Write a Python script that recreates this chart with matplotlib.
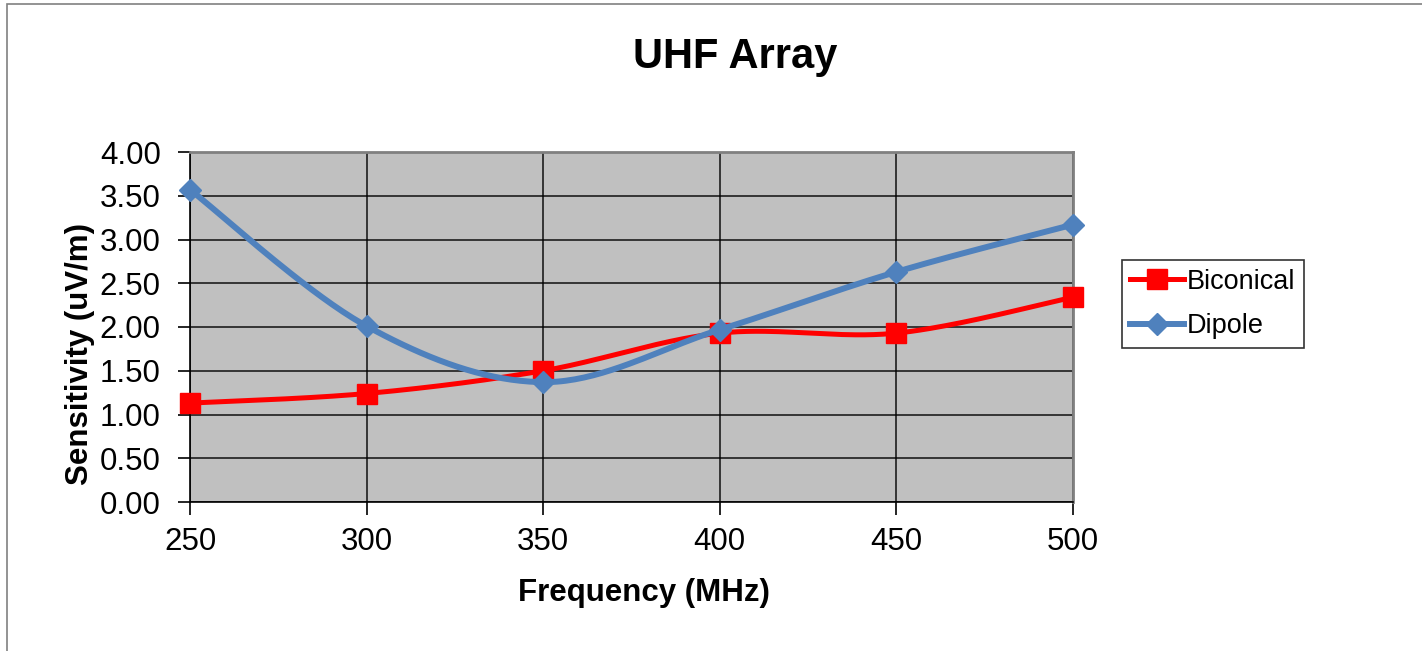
import numpy as np
import matplotlib
matplotlib.use("Agg")
import matplotlib.pyplot as plt
from matplotlib.patches import Rectangle

# data
freq = [250, 300, 350, 400, 450, 500]
biconical = [1.13, 1.24, 1.50, 1.93, 1.93, 2.34]
dipole = [3.57, 2.01, 1.37, 1.97, 2.63, 3.17]
y_ticks = [0.0, 0.5, 1.0, 1.5, 2.0, 2.5, 3.0, 3.5, 4.0]


def smooth(x, y, n=40):
    # Excel style smoothed line: cubic bezier through points (catmull-rom controls)
    x = np.asarray(x, float)
    y = np.asarray(y, float)
    px = np.concatenate([[x[0]], x, [x[-1]]])
    py = np.concatenate([[y[0]], y, [y[-1]]])
    xs, ys = [], []
    t = np.linspace(0, 1, n)
    for i in range(1, len(px) - 2):
        p0 = np.array([px[i], py[i]])
        p3 = np.array([px[i + 1], py[i + 1]])
        p1 = p0 + (np.array([px[i + 1], py[i + 1]]) - np.array([px[i - 1], py[i - 1]])) / 6
        p2 = p3 - (np.array([px[i + 2], py[i + 2]]) - np.array([px[i], py[i]])) / 6
        b = ((1 - t) ** 3)[:, None] * p0 + (3 * (1 - t) ** 2 * t)[:, None] * p1 \
            + (3 * (1 - t) * t ** 2)[:, None] * p2 + (t ** 3)[:, None] * p3
        xs.extend(b[:, 0])
        ys.extend(b[:, 1])
    return xs, ys


plt.rcParams['font.family'] = ['Liberation Sans', 'DejaVu Sans']

W, H = 1422, 651
fig = plt.figure(figsize=(W / 100, H / 100), dpi=100)

# outer chart border
fig.patches.append(Rectangle((7 / W, -0.1), 1.2, 1 - 4 / H + 0.1, transform=fig.transFigure,
                             fill=False, edgecolor='#808080', linewidth=1.2))

ax = fig.add_axes([190 / W, 1 - 502 / H, (1073 - 190) / W, (502 - 152) / H])
ax.set_facecolor('#C0C0C0')

red = '#FF0000'
blue = '#4F81BD'

bx, by = smooth(freq, biconical)
dx, dy = smooth(freq, dipole)
ax.plot(bx, by, color=red, linewidth=3.6, zorder=3, solid_capstyle='round', clip_on=False)
ax.plot(freq, biconical, linestyle='none', marker='s', markersize=14, color=red, zorder=4, clip_on=False)
ax.plot(dx, dy, color=blue, linewidth=4.3, zorder=5, solid_capstyle='round', clip_on=False)
ax.plot(freq, dipole, linestyle='none', marker='D', markersize=11, color=blue, zorder=6, clip_on=False)

# legend proxies
h1, = ax.plot([], [], color=red, linewidth=3.6, marker='s', markersize=14, label='Biconical')
h2, = ax.plot([], [], color=blue, linewidth=4.3, marker='D', markersize=11, label='Dipole')

ax.set_xlim(250, 500)
ax.set_ylim(0, 4)
ax.set_xticks(freq)
ax.set_yticks(y_ticks)
ax.set_yticklabels(["{:.2f}".format(v) for v in y_ticks])
ax.grid(True, color='#000000', linewidth=1.2, alpha=0.85, zorder=1)
ax.set_axisbelow(True)
ax.tick_params(axis='both', direction='out', length=9, width=1.2, labelsize=22.5, color='black')
ax.tick_params(axis='y', pad=12)
ax.tick_params(axis='x', pad=9)

for s in ['left', 'bottom']:
    ax.spines[s].set_color('black')
    ax.spines[s].set_linewidth(1.2)
for s in ['top', 'right']:
    ax.spines[s].set_color('#808080')
    ax.spines[s].set_linewidth(2)

fig.text(735 / W, 1 - 57 / H, 'UHF Array', fontsize=30, fontweight='bold', ha='center', va='center')
fig.text(644 / W, 1 - 593 / H, 'Frequency (MHz)', fontsize=22.5, fontweight='bold', ha='center', va='center')
fig.text(80 / W, 1 - 354 / H, 'Sensitivity (uV/m)', fontsize=22.5, fontweight='bold', ha='center',
         va='center', rotation=90)

leg = fig.legend(handles=[h1, h2], loc='center', bbox_to_anchor=(1213 / W, 1 - 304 / H), fontsize=19.5,
                 frameon=True, fancybox=False, edgecolor='black', handlelength=2.0, handletextpad=0.1,
                 borderpad=0.3, labelspacing=0.7, borderaxespad=0)
leg.get_frame().set_linewidth(1.2)

fig.savefig('out.png', dpi=100)
